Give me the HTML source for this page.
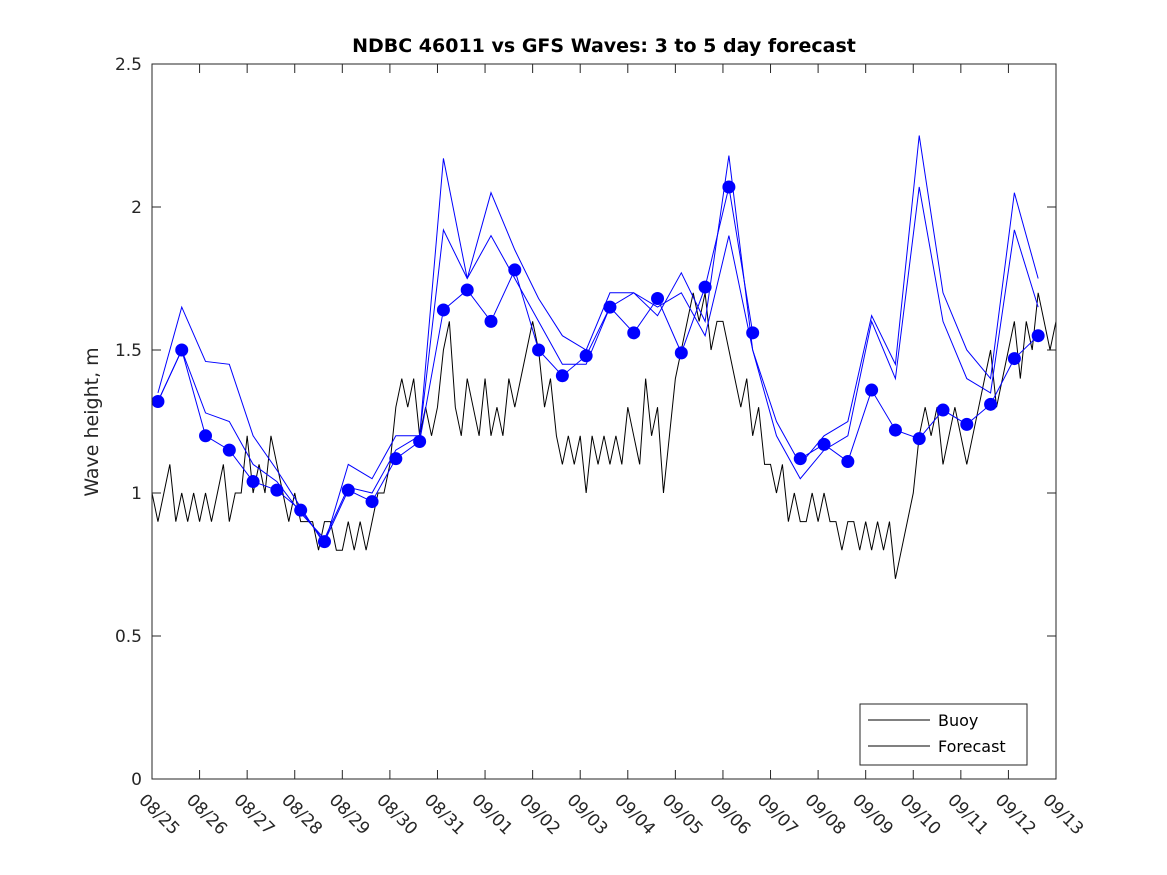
<!DOCTYPE html>
<html><head><meta charset="utf-8">
<style>
html,body{margin:0;padding:0;background:#fff;}
svg{display:block;font-family:"DejaVu Sans","Liberation Sans",sans-serif;}
</style></head>
<body>
<svg id="chart" width="1167" height="875" xmlns="http://www.w3.org/2000/svg">
<rect x="0" y="0" width="1167" height="875" fill="#fff"/>
<text x="604" y="52" text-anchor="middle" font-size="19" font-weight="bold">NDBC 46011 vs GFS Waves: 3 to 5 day forecast</text>
<text transform="translate(98,422) rotate(-90)" text-anchor="middle" font-size="19" fill="#262626">Wave height, m</text>
<g id="grid"></g>
<g id="series"></g>
<rect x="152" y="64" width="904" height="715" fill="none" stroke="#262626" stroke-width="1"/>
<g>
<rect x="860" y="704" width="167" height="61" fill="#fff" stroke="#262626" stroke-width="1"/>
<line x1="868" y1="720" x2="930" y2="720" stroke="#000"/>
<text x="938" y="726" font-size="16">Buoy</text>
<line x1="868" y1="746" x2="930" y2="746" stroke="#000"/>
<text x="938" y="752" font-size="16">Forecast</text>
</g>
</svg>
<script>
const xTickLabels = ["08/25","08/26","08/27","08/28","08/29","08/30","08/31","09/01","09/02","09/03","09/04","09/05","09/06","09/07","09/08","09/09","09/10","09/11","09/12","09/13"];
const yTickValues = [0,0.5,1,1.5,2,2.5];
const yTickLabels = ["0","0.5","1","1.5","2","2.5"];
// buoy, every 3 hours from 08/25 00Z
const buoyValues = [
1.0,0.9,1.0,1.1,0.9,1.0,0.9,1.0,
0.9,1.0,0.9,1.0,1.1,0.9,1.0,1.0,
1.2,1.0,1.1,1.0,1.2,1.1,1.0,0.9,
1.0,0.9,0.9,0.9,0.8,0.9,0.9,0.8,
0.8,0.9,0.8,0.9,0.8,0.9,1.0,1.0,
1.1,1.3,1.4,1.3,1.4,1.2,1.3,1.2,
1.3,1.5,1.6,1.3,1.2,1.4,1.3,1.2,
1.4,1.2,1.3,1.2,1.4,1.3,1.4,1.5,
1.6,1.5,1.3,1.4,1.2,1.1,1.2,1.1,
1.2,1.0,1.2,1.1,1.2,1.1,1.2,1.1,
1.3,1.2,1.1,1.4,1.2,1.3,1.0,1.2,
1.4,1.5,1.6,1.7,1.6,1.7,1.5,1.6,
1.6,1.5,1.4,1.3,1.4,1.2,1.3,1.1,
1.1,1.0,1.1,0.9,1.0,0.9,0.9,1.0,
0.9,1.0,0.9,0.9,0.8,0.9,0.9,0.8,
0.9,0.8,0.9,0.8,0.9,0.7,0.8,0.9,
1.0,1.2,1.3,1.2,1.3,1.1,1.2,1.3,
1.2,1.1,1.2,1.3,1.4,1.5,1.3,1.4,
1.5,1.6,1.4,1.6,1.5,1.7,1.6,1.5,
1.6];
// forecast, every 12 hours from 08/25 03Z
const forecastUpper = [1.35,1.65,1.46,1.45,1.2,1.08,0.95,0.82,1.1,1.05,1.2,1.2,2.17,1.75,2.05,1.85,1.68,1.55,1.5,1.7,1.7,1.62,1.77,1.6,2.18,1.5,1.25,1.1,1.2,1.25,1.62,1.45,2.25,1.7,1.5,1.4,2.05,1.75];
const forecastMiddle = [1.32,1.5,1.28,1.25,1.1,1.04,0.93,0.84,1.02,1.0,1.15,1.2,1.92,1.75,1.9,1.75,1.6,1.45,1.45,1.65,1.7,1.65,1.7,1.55,1.9,1.5,1.2,1.05,1.15,1.2,1.6,1.4,2.07,1.6,1.4,1.35,1.92,1.65];
const forecastDots = [1.32,1.5,1.2,1.15,1.04,1.01,0.94,0.83,1.01,0.97,1.12,1.18,1.64,1.71,1.6,1.78,1.5,1.41,1.48,1.65,1.56,1.68,1.49,1.72,2.07,1.56,null,1.12,1.17,1.11,1.36,1.22,1.19,1.29,1.24,1.31,1.47,1.55];

const X0=152,X1=1056,Y0=779,Y1=64,DAYS=19,YMAX=2.5;
function xs(d){return X0+(X1-X0)*d/DAYS;}
function ys(v){return Y0-(Y0-Y1)*v/YMAX;}
const NS="http://www.w3.org/2000/svg";
const grid=document.getElementById('grid'), ser=document.getElementById('series');
function mk(tag,attrs,parent){const e=document.createElementNS(NS,tag);for(const k in attrs)e.setAttribute(k,attrs[k]);parent.appendChild(e);return e;}

yTickValues.forEach((v,i)=>{
  const y=ys(v);
  let t=mk('line',{x1:X0,y1:y,x2:X0+9,y2:y,stroke:'#262626'},grid);
  
  
  t=mk('line',{x1:X1-9,y1:y,x2:X1,y2:y,stroke:'#262626'},grid);
  
  
  const l=mk('text',{x:X0-10,y:y+6,'text-anchor':'end','font-size':'17',fill:'#262626'},grid);
  l.textContent=yTickLabels[i];
  
  
});
xTickLabels.forEach((s,i)=>{
  const x=xs(i);
  let t=mk('line',{x1:x,y1:Y0,x2:x,y2:Y0-9,stroke:'#262626'},grid);
  
  
  t=mk('line',{x1:x,y1:Y1,x2:x,y2:Y1+9,stroke:'#262626'},grid);
  
  
  const l=mk('text',{transform:`translate(${x-14},${Y0+22}) rotate(45)`,'font-size':'17',fill:'#262626'},grid);
  l.textContent=s;
  
  
});

// buoy line
let bp='';
buoyValues.forEach((v,i)=>{bp+=(i?'L':'M')+xs(i*0.125)+','+ys(v);});
const bl=mk('path',{d:bp,fill:'none',stroke:'#000','stroke-width':'1'},ser);



function fline(arr,name){
  let d='',pen=false;
  arr.forEach((v,i)=>{if(v==null){pen=false;return;}d+=(pen?'L':'M')+xs(0.125+0.5*i)+','+ys(v);pen=true;});
  const p=mk('path',{d:d,fill:'none',stroke:'#0000ff','stroke-width':'1'},ser);
  
  
}
fline(forecastUpper,'forecast-upper-line');
fline(forecastMiddle,'forecast-middle-line');
fline(forecastDots,'forecast-line');
forecastDots.forEach((v,i)=>{
  if(v==null)return;
  const c=mk('circle',{cx:xs(0.125+0.5*i),cy:ys(v),r:6.5,fill:'#0000ff'},ser);
  
  
});
</script>
</body></html>
